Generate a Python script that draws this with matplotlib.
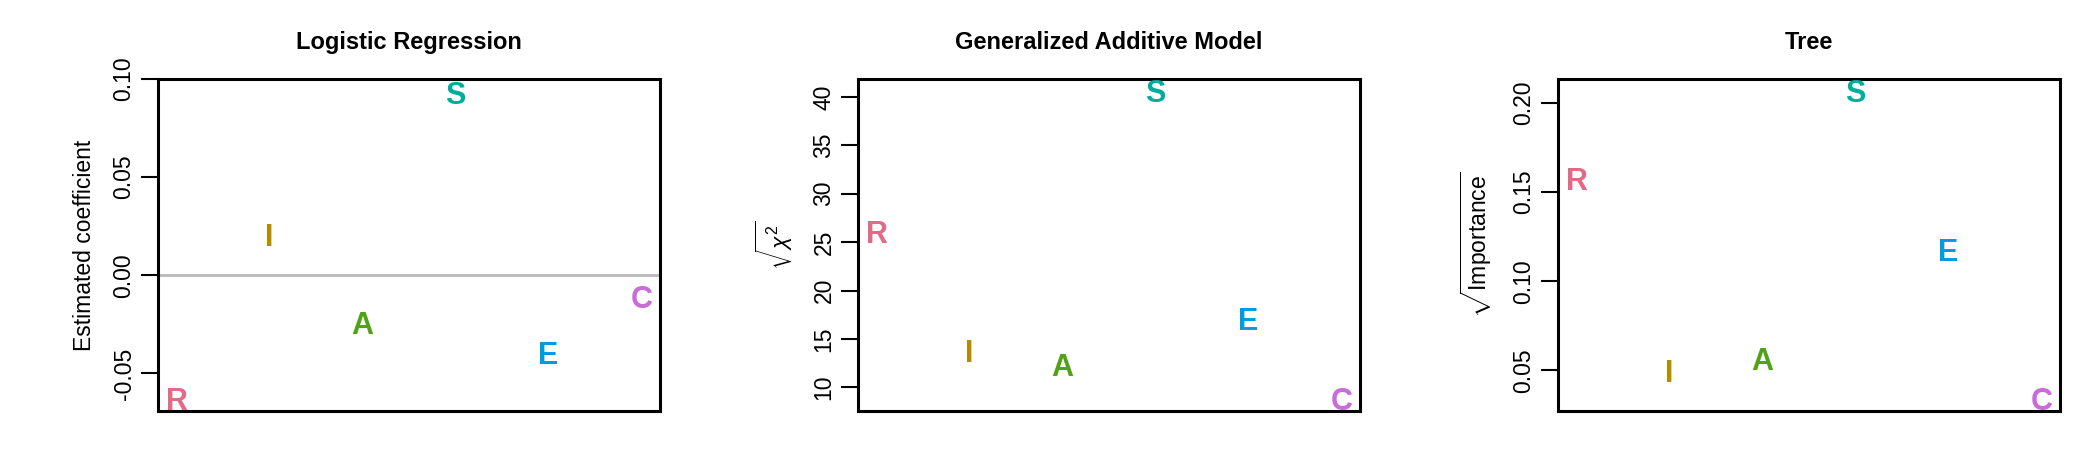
import matplotlib
matplotlib.use("Agg")
import matplotlib.pyplot as plt
from matplotlib.transforms import offset_copy

plt.rcParams['font.family'] = ['Liberation Sans', 'DejaVu Sans']
plt.rcParams['mathtext.fontset'] = 'custom'
plt.rcParams['mathtext.rm'] = 'Liberation Sans'
plt.rcParams['mathtext.it'] = 'Liberation Sans:italic'

letters = ["R", "I", "A", "S", "E", "C"]
colors = ["#E16A86", "#B88A00", "#50A315", "#00AD9A", "#009ADE", "#C86DD7"]

logit_coef = [-0.0629, 0.0203, -0.0242, 0.0929, -0.0394, -0.0110]
gam_chi = [26.02, 13.76, 12.28, 40.58, 17.11, 8.83]
tree_imp = [0.1574, 0.0496, 0.0562, 0.2065, 0.1175, 0.0341]

titles = ["Logistic Regression", "Generalized Additive Model", "Tree"]
ylabels = ["Estimated coefficient", r"$\sqrt{\chi^2}$", r"$\sqrt{\mathrm{Importance}}$"]
yticks = [[-0.05, 0.00, 0.05, 0.10], [10, 15, 20, 25, 30, 35, 40], [0.05, 0.10, 0.15, 0.20]]
yticklabels = [["-0.05", "0.00", "0.05", "0.10"],
               ["10", "15", "20", "25", "30", "35", "40"],
               ["0.05", "0.10", "0.15", "0.20"]]
series = [logit_coef, gam_chi, tree_imp]
ylab_x = [-0.147, -0.167, -0.163]

W, H = 2100, 450
fig = plt.figure(figsize=(21, 4.5), dpi=100)
lefts = [158, 858, 1558]
for k in range(3):
    ax = fig.add_axes([lefts[k] / W, (H - 411) / H, 502 / W, 332 / H])
    vals = series[k]
    xs = list(range(1, len(letters) + 1))
    lo, hi = min(vals), max(vals)
    r = hi - lo
    ax.set_xlim(0.8, len(letters) + 0.2)
    ax.set_ylim(lo - 0.04 * r, hi + 0.04 * r)
    if k == 0:
        ax.axhline(0, color="#BEBEBE", lw=2.2, zorder=1)
    tr = offset_copy(ax.transData, fig=fig, y=-7.9, units='points')
    for x, v, lab, c in zip(xs, vals, letters, colors):
        ax.text(x, v, lab, color=c, fontsize=22, fontweight='bold',
                ha='center', va='baseline', transform=tr, clip_on=False, zorder=3)
    ax.set_xticks([])
    ax.set_yticks(yticks[k])
    ax.set_yticklabels(yticklabels[k])
    ax.tick_params(axis='y', labelrotation=90, length=12.2, width=1.5, pad=4,
                   labelsize=16.5)
    for lbl in ax.get_yticklabels():
        lbl.set_va('center')
    for s in ax.spines.values():
        s.set_linewidth(2.2)
    ax.set_title(titles[k], fontsize=17, fontweight='bold', pad=21.6)
    ax.text(ylab_x[k], 0.5, ylabels[k], transform=ax.transAxes, rotation=90,
            ha='center', va='center', fontsize=16.5)

fig.savefig("out.png", dpi=100)
